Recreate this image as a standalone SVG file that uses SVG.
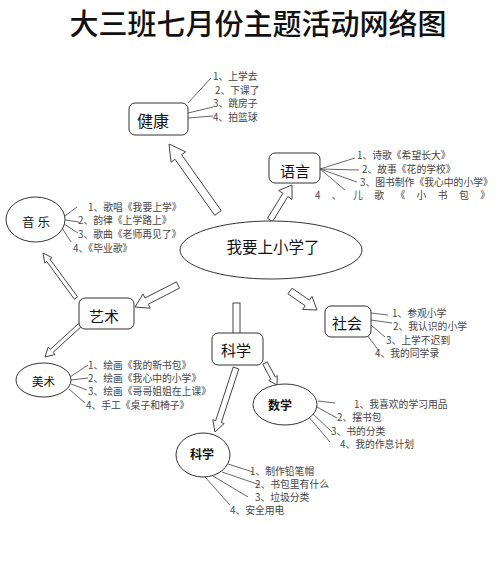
<svg xmlns="http://www.w3.org/2000/svg" width="500" height="581" viewBox="0 0 500 581">
<style>
.bg{fill:#fff}
.box{fill:#fff;stroke:#333;stroke-width:1}
.arrow{fill:#fff;stroke:#444;stroke-width:1;stroke-linejoin:miter}
.line{stroke:#555;stroke-width:0.9;fill:none}
.lbl{font-family:"Noto Sans CJK SC","Noto Sans",sans-serif;fill:#111;text-anchor:middle}
.big{font-size:15px}
.sm{font-size:12px}
.item{font-family:"Noto Sans CJK SC","Noto Sans",sans-serif;font-size:9.8px;fill:#444}
</style>
<rect class="bg" x="0" y="0" width="500" height="581"/>
<g id="title">
<text x="258" y="35" font-family="'Noto Sans CJK SC','Noto Sans',sans-serif" font-size="29" font-weight="500" fill="#111" text-anchor="middle">大三班七月份主题活动网络图</text>
</g>
<g id="connectors">
<polygon class="arrow" points="221.3,210.7 181.6,154.7 185.6,151.8 169,144 171,162.2 175,159.3 214.7,215.3"/>
<polygon class="arrow" points="272.5,221.7 287.8,196.6 292,199.4 292,185 278.7,190.5 282.9,193.3 267.5,218.3"/>
<polygon class="arrow" points="179.6,288.1 148.2,304.2 150.2,308.2 135,307 143,294 145,298 176.4,281.9"/>
<polygon class="arrow" points="287.9,293.8 305.2,305.7 302.6,309.4 317,310 312,296.4 309.4,300.1 292.1,288.2"/>
<rect class="arrow" x="233" y="303" width="7" height="33"/>
<polygon class="arrow" points="262.8,364.2 270.8,379.3 268.7,380.5 277,385 277.3,375.6 275.2,376.9 267.2,361.8"/>
<polygon class="arrow" points="233.2,367 215.7,420.6 212.8,419.7 215,432 224.2,423.5 221.3,422.6 238.8,369"/>
<polygon class="arrow" points="81.4,326.5 53,352.4 55,354.6 45,357 48.2,347.2 50.3,349.4 78.6,323.5"/>
<polygon class="arrow" points="77.6,296.8 49.9,259.1 51.9,257.6 43,253 44.7,263 46.7,261.5 74.4,299.2"/>
<path class="line" d="M188,103L211,78M188,113L213,107M188,118L213,116"/>
<path class="line" d="M320,169L355,158M320,169L359,170M320,169L357,182M320,169L345,190"/>
<path class="line" d="M65,216L77,207M65,220L79,222M64,224L78,233M62,228L71,242"/>
<path class="line" d="M70,377L88,365M71,380L88,378M71,384L87,390M69,389L85,403"/>
<path class="line" d="M371,313L388,315M371,320L392,323M371,325L385,337M367,335L379,351"/>
<path class="line" d="M318,401L335,403M317,407L337,418M312,413L332,432M308,416L330,442"/>
<path class="line" d="M228,464L253,472M222,472L260,485M213,476L248,497M205,477L230,505"/>
</g>
<g id="center">
<ellipse class="box" cx="271" cy="250" rx="91" ry="29"/>
<text class="lbl" x="273" y="253" font-size="15.5">我要上小学了</text>
</g>
<g id="health">
<rect class="box" x="129" y="103" width="59" height="32" rx="6"/>
<text class="lbl" x="153" y="127" font-size="16">健康</text>
<text class="item" x="213" y="79.5">1、上学去</text>
<text class="item" x="215" y="93.5">2、下课了</text>
<text class="item" x="213" y="107">3、跳房子</text>
<text class="item" x="213" y="120.5">4、拍篮球</text>
</g>
<g id="language">
<rect class="box" x="269" y="153" width="51" height="30" rx="6"/>
<text class="lbl big" x="295" y="177">语言</text>
<text class="item" x="357" y="159">1、诗歌《希望长大》</text>
<text class="item" x="362" y="172.5">2、故事《花的学校》</text>
<text class="item" x="360" y="185.5">3、图书制作《我心中的小学》</text>
<text class="item" x="315" y="199" textLength="175" lengthAdjust="spacing">4、儿歌《小书包》</text>
</g>
<g id="music">
<ellipse class="box" cx="35.5" cy="219.5" rx="29.5" ry="22.5"/>
<text class="lbl" x="36" y="226.5" font-size="12.5">音 乐</text>
<text class="item" x="88" y="210.5">1、歌唱《我要上学》</text>
<text class="item" x="78" y="224">2、韵律《上学路上》</text>
<text class="item" x="78" y="237.5">3、歌曲《老师再见了》</text>
<text class="item" x="73" y="251.5">4、《毕业歌》</text>
</g>
<g id="art">
<rect class="box" x="79" y="298" width="55" height="31" rx="6"/>
<text class="lbl big" x="104" y="321.5">艺术</text>
</g>
<g id="fineart">
<ellipse class="box" cx="43.5" cy="380" rx="27.5" ry="17"/>
<text class="lbl" x="43.5" y="385.5" font-size="11.5">美术</text>
<text class="item" x="88" y="369" font-size="10.3">1、绘画《我的新书包》</text>
<text class="item" x="88" y="382" font-size="10.3">2、绘画《我心中的小学》</text>
<text class="item" x="88" y="395" font-size="10.3">3、绘画《哥哥姐姐在上课》</text>
<text class="item" x="86" y="408.5" font-size="10.3">4、手工《桌子和椅子》</text>
</g>
<g id="society">
<rect class="box" x="325" y="306" width="46" height="31" rx="6"/>
<text class="lbl big" x="347" y="328.5">社会</text>
<text class="item" x="392" y="316.5">1、参观小学</text>
<text class="item" x="393" y="329.5">2、我认识的小学</text>
<text class="item" x="386" y="343.5">3、上学不迟到</text>
<text class="item" x="375" y="357">4、我的同学录</text>
</g>
<g id="science">
<rect class="box" x="212" y="333" width="51" height="32" rx="6"/>
<text class="lbl big" x="236" y="355.5">科学</text>
</g>
<g id="math">
<ellipse class="box" cx="285" cy="404.5" rx="32" ry="20.5"/>
<text class="lbl sm" x="280" y="409.5" font-weight="bold">数学</text>
<text class="item" x="354" y="407.5">1、我喜欢的学习用品</text>
<text class="item" x="337" y="421">2、摆书包</text>
<text class="item" x="331" y="434.5">3、书的分类</text>
<text class="item" x="340" y="448">4、我的作息计划</text>
</g>
<g id="science2">
<ellipse class="box" cx="203" cy="455" rx="27" ry="22"/>
<text class="lbl sm" x="202" y="459" font-weight="bold">科学</text>
<text class="item" x="250" y="474.5">1、制作铅笔帽</text>
<text class="item" x="255" y="487.5">2、书包里有什么</text>
<text class="item" x="255" y="500.5">3、垃圾分类</text>
<text class="item" x="230" y="513.5">4、安全用电</text>
</g>
</svg>
